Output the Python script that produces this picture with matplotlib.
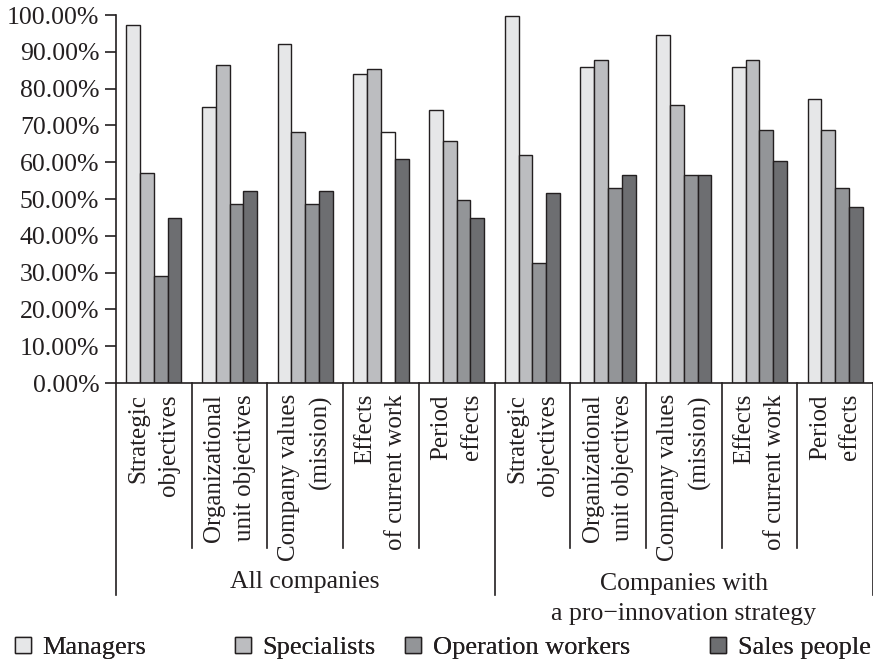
import matplotlib
matplotlib.use("Agg")
import matplotlib.pyplot as plt
from matplotlib.patches import Patch
import numpy as np

plt.rcParams["font.family"] = ["Liberation Serif", "DejaVu Serif"]

categories = [
    "Strategic\nobjectives",
    "Organizational\nunit objectives",
    "Company values\n(mission)",
    "Effects\nof current work",
    "Period\neffects",
] * 2
groups = ["All companies", "Companies with\na pro\u2212innovation strategy"]
series = ["Managers", "Specialists", "Operation workers", "Sales people"]

managers = [97.2, 75.1, 92.2, 83.9, 74.2, 99.6, 86.0, 94.7, 86.0, 77.1]
specialists = [57.0, 86.3, 68.2, 85.3, 65.8, 62.0, 87.9, 75.6, 87.9, 68.8]
operation_workers = [29.1, 48.6, 48.7, 68.2, 49.7, 32.5, 53.1, 56.6, 68.8, 53.1]
sales_people = [44.8, 52.1, 52.1, 60.9, 44.8, 51.7, 56.6, 56.6, 60.4, 47.7]

values = [managers, specialists, operation_workers, sales_people]
colors = ["#e6e7e8", "#bcbdc0", "#939598", "#6d6e71"]
ink = "#231f20"

fig = plt.figure(figsize=(8.73, 6.65), dpi=100)
ax = fig.add_axes([116 / 873, 282 / 665, 757 / 873, 368 / 665])

x = np.arange(len(categories))
w = 0.182
for k, (vals, col) in enumerate(zip(values, colors)):
    bars = ax.bar(x + (k - 1.5) * w, vals, w, color=col, edgecolor=ink, linewidth=1.0)
    if k == 2:
        # the operation-workers bar for "Effects of current work" is unfilled
        bars[3].set_facecolor("white")

ax.set_xlim(-0.5, len(categories) - 0.5)
ax.set_ylim(0, 100)
ax.set_yticks(np.arange(0, 101, 10))
ax.set_yticklabels([f"{v:.2f}%" for v in np.arange(0, 101, 10)], fontsize=18.5, color=ink)
ax.tick_params(axis="y", length=8, width=1.2, color=ink, pad=4)
ax.set_xticks([])
for s in ["top", "right"]:
    ax.spines[s].set_visible(False)
for s in ["left", "bottom"]:
    ax.spines[s].set_color(ink)
    ax.spines[s].set_linewidth(1.2)

tr = ax.get_xaxis_transform()
# category separators below the axis
for i in range(len(categories) + 1):
    xs = i - 0.5
    long = i % 5 == 0
    ax.plot([xs, xs], [0, -0.576 if long else -0.448], transform=tr,
            color=ink, linewidth=1.2, clip_on=False)

# rotated category labels
for i, lab in enumerate(categories):
    ax.text(i, -0.030, lab, transform=tr, rotation=90, ha="center", va="top",
            multialignment="right", fontsize=18, color=ink, linespacing=1.5)

# group labels
ax.text(2, -0.54, groups[0], transform=tr, ha="center", va="center",
        fontsize=18.5, color=ink)
ax.text(7, -0.515, groups[1], transform=tr, ha="center", va="top",
        fontsize=18.5, color=ink, linespacing=1.5)

# legend entries placed individually along the bottom
legend_x = [15, 235, 405, 710]
for name, col, lx in zip(series, colors, legend_x):
    h = Patch(facecolor=col, edgecolor=ink, linewidth=1.0, label=name)
    leg = fig.legend(handles=[h], loc="center left", bbox_to_anchor=(lx / 873, 17 / 665),
                     frameon=False, fontsize=19, borderpad=0, borderaxespad=0,
                     handlelength=0.6, handleheight=0.6, handletextpad=0.45,
                     labelcolor=ink)
    fig.add_artist(leg)

fig.savefig("out.png", dpi=100)
